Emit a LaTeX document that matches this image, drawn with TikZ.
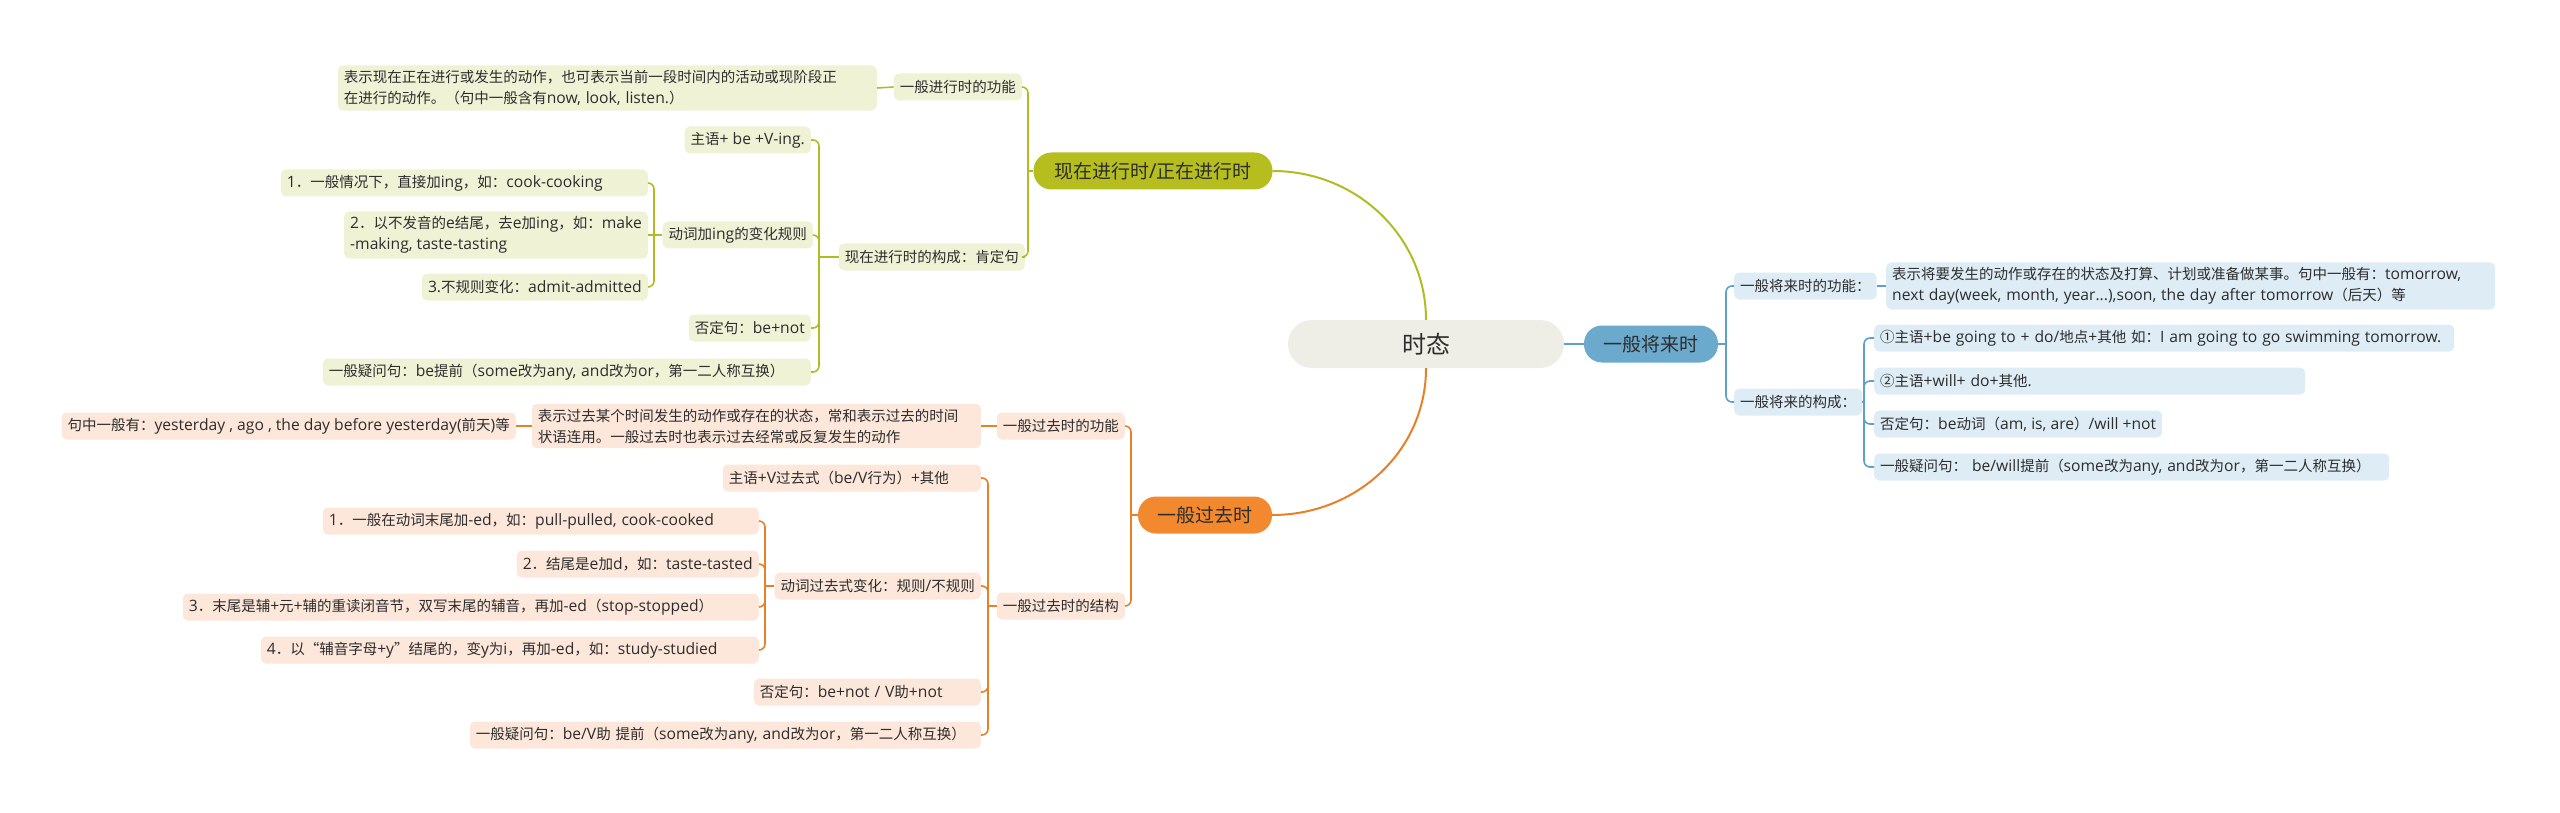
\documentclass[tikz,border=0pt]{standalone}
\usepackage{fontspec}
\setmainfont{Noto Sans CJK SC}
\newfontfamily\cjkf{Noto Sans CJK SC}
\newfontfamily\latf{Open Sans}[Scale=1.08]
% latin runs in a wider face, CJK runs in Noto
\XeTeXinterchartokenstate=1
\newXeTeXintercharclass\cjkclass
\newcount\cjkcode
\def\cjkrange#1#2{\cjkcode=#1 \loop\XeTeXcharclass\cjkcode=\cjkclass\relax
  \advance\cjkcode by 1 \ifnum\cjkcode<#2 \repeat}
\cjkrange{"4E00}{"A000}
\cjkrange{"3000}{"3040}
\cjkrange{"FF00}{"FFF0}
\cjkrange{"2460}{"2470}
\XeTeXcharclass"201C=\cjkclass
\XeTeXcharclass"201D=\cjkclass
\XeTeXinterchartoks 0 \cjkclass = {\cjkf}
\XeTeXinterchartoks 4095 \cjkclass = {\cjkf}
\XeTeXinterchartoks \cjkclass 0 = {\latf}
\XeTeXinterchartoks 4095 0 = {\latf}
\exhyphenpenalty=10000
\hyphenpenalty=10000
\usepackage{xcolor}
\definecolor{txt}{RGB}{45,45,45}
\definecolor{rootfill}{RGB}{239,238,230}
\definecolor{gdark}{RGB}{181,190,30}
\definecolor{gline}{RGB}{176,188,34}
\definecolor{glight}{RGB}{240,242,214}
\definecolor{odark}{RGB}{242,137,46}
\definecolor{oline}{RGB}{232,128,40}
\definecolor{olight}{RGB}{252,231,218}
\definecolor{bdark}{RGB}{107,170,205}
\definecolor{bline}{RGB}{95,160,200}
\definecolor{blight}{RGB}{222,236,245}
\usepackage{tikz}

\begin{document}
\begin{tikzpicture}[x=1pt, y=-1pt,
    tbox/.style={font=\fontsize{14.5}{21}\selectfont, text=txt, rounded corners=5pt,
                 inner xsep=6pt, inner ysep=5pt, minimum height=27pt, align=left},
    gbox/.style={tbox, fill=glight},
    obox/.style={tbox, fill=olight},
    bbox/.style={tbox, fill=blight},
    mainnode/.style={font=\fontsize{19}{23}\selectfont, text=txt, rounded corners=18pt,
                 minimum height=37pt, inner xsep=10pt},
    gwire/.style={draw=gline, line width=1.6pt},
    owire/.style={draw=oline, line width=1.6pt},
    bwire/.style={draw=bline, line width=1.6pt}]
\useasboundingbox (0,0) rectangle (2560,813);

% root and the three tenses
\node[fill=rootfill, text=txt, font=\fontsize{24}{28}\selectfont, rounded corners=24pt,
      minimum width=276pt, minimum height=48pt] (ct) at (1426,344) {时态};
\node[mainnode, fill=bdark, minimum width=134pt] (fu) at (1651,344) {一般将来时};
\node[mainnode, fill=gdark, minimum width=239pt] (pr) at (1153,171) {现在进行时/正在进行时};
\node[mainnode, fill=odark, minimum width=134pt] (pa) at (1205,515) {一般过去时};

\draw[gwire, line width=2pt] (ct.north) .. controls +(0,-82) and +(85,0) .. (pr.east);
\draw[owire, line width=2pt] (ct.south) .. controls +(0,82) and +(85,0) .. (pa.east);
\draw[bwire, line width=2pt] (ct.east) -- (fu.west);

% present continuous
\node[gbox, anchor=east] (pr1) at (1022,87) {一般进行时的功能};
\node[gbox, anchor=east, text width=527pt] (pr1a) at (877,88) {表示现在正在进行或发生的动作，也可表示当前一段时间内的活动或现阶段正\\在进行的动作。（句中一般含有now, look, listen.）};
\node[gbox, anchor=east] (pr2) at (1025,257) {现在进行时的构成：肯定句};
\node[gbox, anchor=east] (pr2a) at (811,140) {主语+ be +V-ing.};
\node[gbox, anchor=east] (pr2b) at (813,235) {动词加ing的变化规则};
\node[gbox, anchor=east, text width=355pt] (pr2b1) at (648,183) {1．一般情况下，直接加ing，如：cook-cooking};
\node[gbox, anchor=east] (pr2b2) at (648,235) {2．以不发音的e结尾，去e加ing，如：make\\-making, taste-tasting};
\node[gbox, anchor=east] (pr2b3) at (648,287) {3.不规则变化：admit-admitted};
\node[gbox, anchor=east] (pr2c) at (811,328) {否定句：be+not};
\node[gbox, anchor=east, text width=476pt] (pr2d) at (811,372) {一般疑问句：be提前（some改为any,~and改为or，第一二人称互换）};

\coordinate (pr-j) at (1028,171);
\coordinate (pr2-j) at (819,257);
\coordinate (pr2b-j) at (654,235);
\draw[gwire] (pr.west) -- (pr-j);
\draw[gwire, rounded corners=6pt] (pr1.east) -| (pr-j);
\draw[gwire, rounded corners=6pt] (pr2.east) -| (pr-j);
\draw[gwire] (pr1.west) -- (pr1a.east);
\draw[gwire] (pr2.west) -- (pr2-j);
\foreach \c in {pr2a,pr2b,pr2c,pr2d}
  \draw[gwire, rounded corners=6pt] (\c.east) -| (pr2-j);
\draw[gwire] (pr2b.west) -- (pr2b-j);
\draw[gwire] (pr2b2.east) -- (pr2b-j);
\foreach \c in {pr2b1,pr2b3}
  \draw[gwire, rounded corners=6pt] (\c.east) -| (pr2b-j);

% simple past
\node[obox, anchor=east] (pa1) at (1125,426) {一般过去时的功能};
\node[obox, anchor=east, text width=437pt] (pa1a) at (981,426) {表示过去某个时间发生的动作或存在的状态，常和表示过去的时间\\状语连用。一般过去时也表示过去经常或反复发生的动作};
\node[obox, anchor=east] (pa1b) at (516,426) {句中一般有：yesterday , ago , the day before yesterday(前天)等};
\node[obox, anchor=east] (pa2) at (1125,606) {一般过去时的结构};
\node[obox, anchor=east, text width=246pt] (pa2a) at (981,478) {主语+V过去式（be/V行为）+其他};
\node[obox, anchor=east] (pa2b) at (981,586) {动词过去式变化：规则/不规则};
\node[obox, anchor=east, text width=424pt] (pa2b1) at (759,521) {1．一般在动词末尾加-ed，如：pull-pulled,~cook-cooked};
\node[obox, anchor=east] (pa2b2) at (759,564) {2．结尾是e加d，如：taste-tasted};
\node[obox, anchor=east, text width=564pt] (pa2b3) at (759,607) {3．末尾是辅+元+辅的重读闭音节，双写末尾的辅音，再加-ed（stop-stopped）};
\node[obox, anchor=east, text width=486pt] (pa2b4) at (759,650) {4．以“辅音字母+y”结尾的，变y为i，再加-ed，如：study-studied};
\node[obox, anchor=east, text width=215pt] (pa2c) at (981,692) {否定句：be+not~/~V助+not};
\node[obox, anchor=east, text width=499pt] (pa2d) at (981,735) {一般疑问句：be/V助~提前（some改为any,~and改为or，第一二人称互换）};

\coordinate (pa-j) at (1131,515);
\coordinate (pa2-j) at (988,606);
\coordinate (pa2b-j) at (765,586);
\draw[owire] (pa.west) -- (pa-j);
\draw[owire, rounded corners=6pt] (pa1.east) -| (pa-j);
\draw[owire, rounded corners=6pt] (pa2.east) -| (pa-j);
\draw[owire] (pa1.west) -- (pa1a.east);
\draw[owire] (pa1a.west) -- (pa1b.east);
\draw[owire] (pa2.west) -- (pa2-j);
\foreach \c in {pa2a,pa2b,pa2c,pa2d}
  \draw[owire, rounded corners=6pt] (\c.east) -| (pa2-j);
\draw[owire] (pa2b.west) -- (pa2b-j);
\foreach \c in {pa2b1,pa2b2,pa2b3,pa2b4}
  \draw[owire, rounded corners=6pt] (\c.east) -| (pa2b-j);

% simple future
\node[bbox, anchor=west] (fu1) at (1734,286) {一般将来时的功能：};
\node[bbox, anchor=west, text width=597pt] (fu1a) at (1886,286) {表示将要发生的动作或存在的状态及打算、计划或准备做某事。句中一般有：tomorrow,\\next~day(week,~month,~year...),soon,~the~day~after~tomorrow（后天）等};
\node[bbox, anchor=west] (fu2) at (1734,402) {一般将来的构成：};
\node[bbox, anchor=west, text width=568pt] (fu2a) at (1874,338) {①主语+be~going~to~+~do/地点+其他~如：I~am~going~to~go~swimming~tomorrow.};
\node[bbox, anchor=west, text width=419pt] (fu2b) at (1874,381) {②主语+will+ do+其他.};
\node[bbox, anchor=west] (fu2c) at (1874,424) {否定句：be动词（am, is, are）/will +not};
\node[bbox, anchor=west, text width=503pt] (fu2d) at (1874,467) {一般疑问句：~be/will提前（some改为any,~and改为or，第一二人称互换）};

\coordinate (fu-j) at (1726,344);
\coordinate (fu2-j) at (1864,402);
\draw[bwire] (fu.east) -- (fu-j);
\draw[bwire, rounded corners=6pt] (fu1.west) -| (fu-j);
\draw[bwire, rounded corners=6pt] (fu2.west) -| (fu-j);
\draw[bwire] (fu1.east) -- (fu1a.west);
\draw[bwire] (fu2.east) -- (fu2-j);
\foreach \c in {fu2a,fu2b,fu2c,fu2d}
  \draw[bwire, rounded corners=6pt] (\c.west) -| (fu2-j);
\end{tikzpicture}
\end{document}
